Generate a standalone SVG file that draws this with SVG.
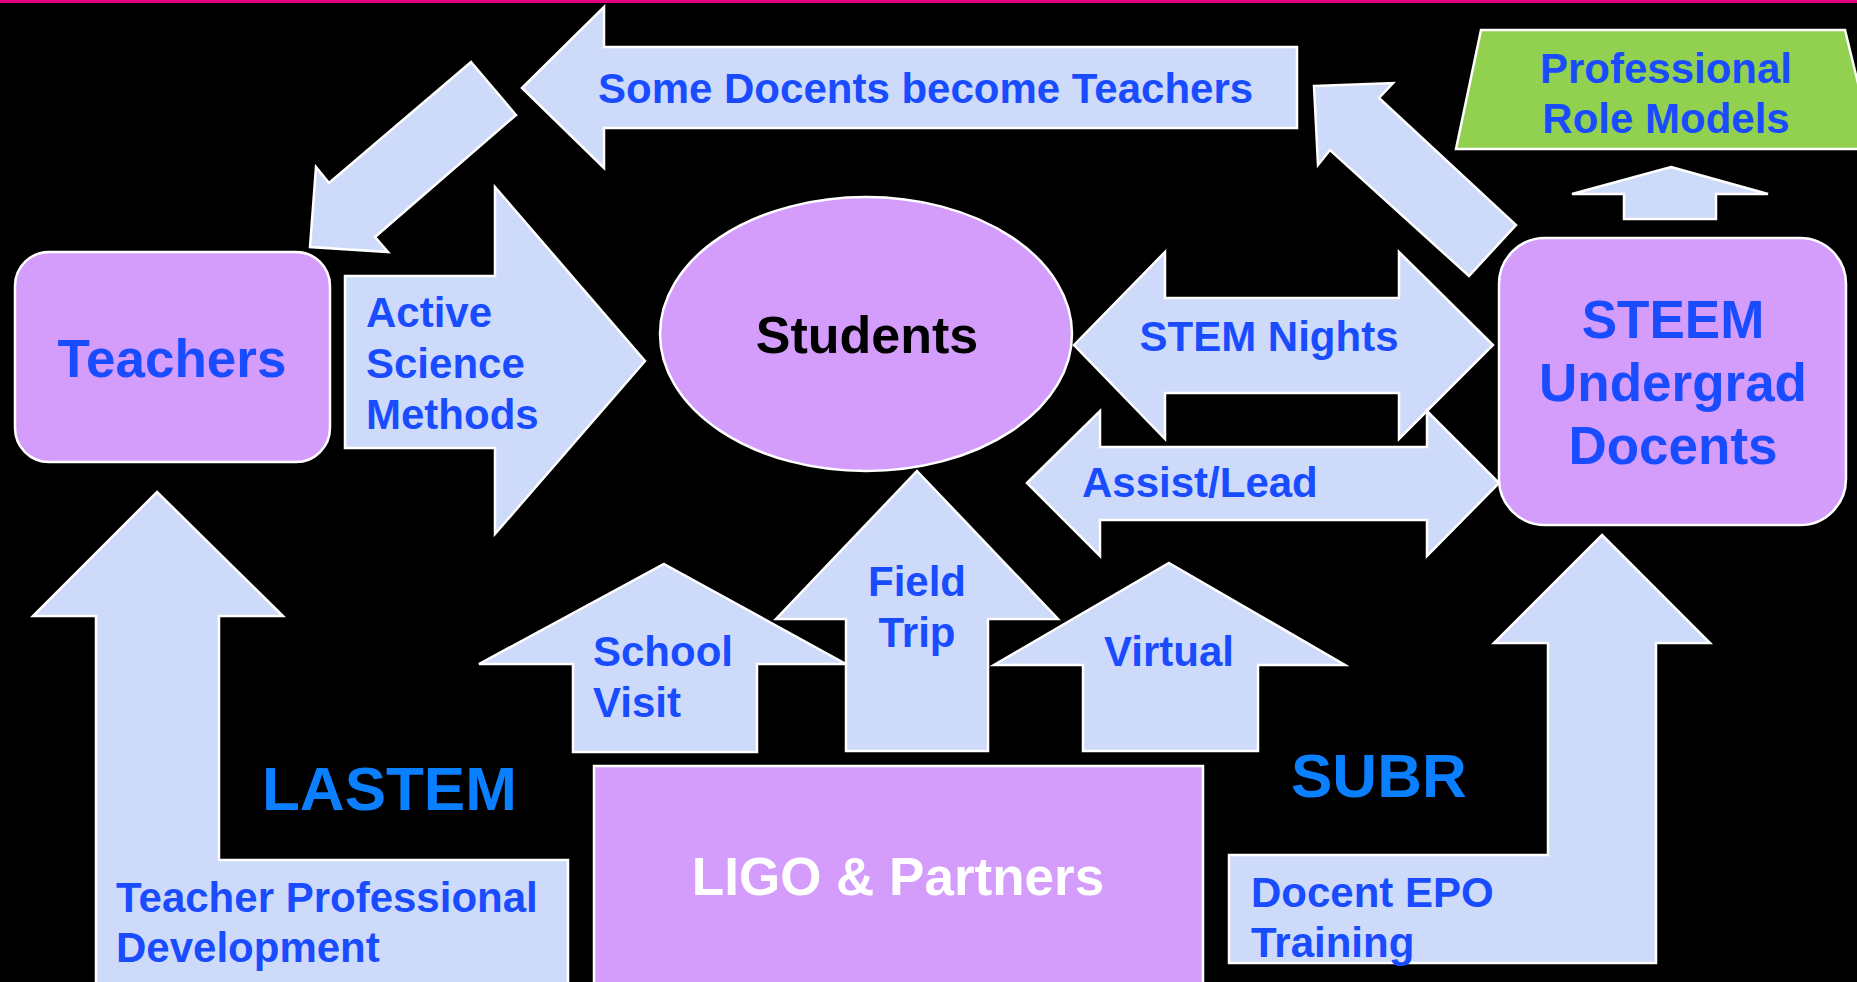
<svg xmlns="http://www.w3.org/2000/svg" width="1857" height="982" viewBox="0 0 1857 982">
<style>
text{font-family:"Liberation Sans",Arial,Helvetica,sans-serif;font-weight:bold}
.node{fill:#d49dfc;stroke:#ffffff;stroke-width:2.5}
.arr{fill:#cedaf9;stroke:#ffffff;stroke-width:2.5;stroke-linejoin:miter}
.lbl{fill:#1a4cff;font-size:42px}
.big{fill:#1a4cff;font-size:53px}
.org{fill:#0a7fff;font-size:62px}
</style>
<rect x="0" y="0" width="1857" height="982" fill="#000000"/>
<rect x="0" y="0" width="1857" height="3" fill="#e5007e"/>
<g id="connectors">
  <g id="arrow-some-docents">
    <polygon class="arr" points="522,88 604,7 604,47 1297,47 1297,128 604,128 604,168"/>
    <text class="lbl" x="598" y="103">Some Docents become Teachers</text>
  </g>
  <g id="arrow-to-teachers">
    <polygon class="arr" points="310,247 316,167 329,183 471,62 516,115 375,237 388,252"/>
  </g>
  <g id="arrow-from-steem">
    <polygon class="arr" points="1314,86 1393,83 1379,98 1516,225 1469,276 1330,150 1318,165"/>
  </g>
  <g id="arrow-role-models">
    <polygon class="arr" points="1671,167 1768,194 1716,194 1716,219 1624,219 1624,194 1572,194"/>
  </g>
  <g id="arrow-active-science">
    <polygon class="arr" points="345,276 495,276 495,187 645,361 495,534 495,448 345,448"/>
    <text class="lbl" x="366" y="327">Active</text>
    <text class="lbl" x="366" y="378">Science</text>
    <text class="lbl" x="366" y="429">Methods</text>
  </g>
  <g id="arrow-stem-nights">
    <polygon class="arr" points="1074,345 1165,252 1165,298 1399,298 1399,252 1493,345 1399,439 1399,393 1165,393 1165,439"/>
    <text class="lbl" x="1269" y="351" text-anchor="middle">STEM Nights</text>
  </g>
  <g id="arrow-assist-lead">
    <polygon class="arr" points="1027,483 1100,411 1100,447 1427,447 1427,411 1499,483 1427,556 1427,520 1100,520 1100,556"/>
    <text class="lbl" x="1082" y="497">Assist/Lead</text>
  </g>
  <g id="arrow-school-visit">
    <polygon class="arr" points="664,564 846,664 757,664 757,752 573,752 573,664 479,664"/>
    <text class="lbl" x="593" y="666">School</text>
    <text class="lbl" x="593" y="717">Visit</text>
  </g>
  <g id="arrow-virtual">
    <polygon class="arr" points="1169,563 1345,665 1258,665 1258,751 1083,751 1083,665 994,665"/>
    <text class="lbl" x="1169" y="666" text-anchor="middle">Virtual</text>
  </g>
  <g id="arrow-field-trip">
    <polygon class="arr" points="917,471 1058,619 988,619 988,751 846,751 846,619 776,619"/>
    <text class="lbl" x="917" y="596" text-anchor="middle">Field</text>
    <text class="lbl" x="917" y="647" text-anchor="middle">Trip</text>
  </g>
  <g id="arrow-teacher-pd">
    <polygon class="arr" points="157,492 283,616 219,616 219,860 568,860 568,992 96,992 96,616 33,616"/>
    <text class="lbl" x="116" y="912">Teacher Professional</text>
    <text class="lbl" x="116" y="962">Development</text>
  </g>
  <g id="arrow-docent-epo">
    <polygon class="arr" points="1602,535 1710,643 1656,643 1656,963 1229,963 1229,855 1548,855 1548,643 1494,643"/>
    <text class="lbl" x="1251" y="907">Docent EPO</text>
    <text class="lbl" x="1251" y="957">Training</text>
  </g>
</g>
<g id="node-teachers">
  <rect class="node" x="15" y="252" width="315" height="210" rx="34" ry="34"/>
  <text class="big" x="172" y="377" text-anchor="middle">Teachers</text>
</g>
<g id="node-students">
  <ellipse class="node" cx="866" cy="334" rx="206" ry="137"/>
  <text x="867" y="353" text-anchor="middle" font-size="52" fill="#000000">Students</text>
</g>
<g id="node-steem">
  <rect class="node" x="1499" y="238" width="347" height="287" rx="46" ry="46"/>
  <text class="big" x="1673" y="338" text-anchor="middle" font-size="54">STEEM</text>
  <text class="big" x="1673" y="401" text-anchor="middle">Undergrad</text>
  <text class="big" x="1673" y="464" text-anchor="middle">Docents</text>
</g>
<g id="node-role-models">
  <polygon points="1481,30 1845,30 1874,149 1456,149" fill="#92d050" stroke="#ffffff" stroke-width="2.5"/>
  <text class="lbl" x="1666" y="83" text-anchor="middle">Professional</text>
  <text class="lbl" x="1666" y="133" text-anchor="middle">Role Models</text>
</g>
<g id="node-ligo">
  <rect class="node" x="594" y="766" width="609" height="240"/>
  <text x="898" y="895" text-anchor="middle" font-size="53" fill="#ffffff">LIGO &amp; Partners</text>
</g>
<g id="label-lastem">
  <text class="org" x="262" y="810">LASTEM</text>
</g>
<g id="label-subr">
  <text class="org" x="1291" y="797">SUBR</text>
</g>
</svg>
